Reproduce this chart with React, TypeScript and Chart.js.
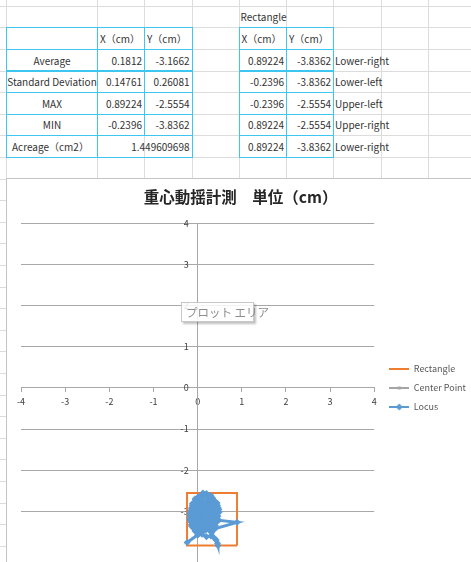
import React, { useEffect, useRef } from "react";
import { Chart, registerables } from "chart.js";

Chart.register(...registerables);

const FONT = "'Noto Sans CJK JP', 'Noto Sans', sans-serif";

// ---------------- data ----------------
const tableHeaders = ["X（cm）", "Y（cm）"];
const statLabels = ["Average", "Standard Deviation", "MAX", "MIN"];
const statX = ["0.1812", "0.14761", "0.89224", "-0.2396"];
const statY = ["-3.1662", "0.26081", "-2.5554", "-3.8362"];
const acreageLabel = "Acreage（cm2）";
const acreageValue = "1.449609698";

const rectTitle = "Rectangle";
const rectX = [0.89224, -0.2396, -0.2396, 0.89224, 0.89224];
const rectY = [-3.8362, -3.8362, -2.5554, -2.5554, -3.8362];
const rectCorners = ["Lower-right", "Lower-left", "Upper-left", "Upper-right", "Lower-right"];

const centerX = [0.1812];
const centerY = [-3.1662];

const locusX = [
  0.18, 0.10, 0.02, -0.08, -0.15, -0.17, -0.12, -0.02, 0.12, 0.25,
  0.36, 0.44, 0.47, 0.40, 0.28, 0.15, 0.04, -0.06, -0.14, -0.18,
  -0.16, -0.10, -0.03, 0.08, 0.18, 0.22, 0.14, 0.05, 0.12, 0.24,
  0.36, 0.45, 0.49, 0.44, 0.30, 0.18, 0.06, 0.10, 0.20, 0.30,
  0.34, 0.28, 0.12, -0.02, -0.12, -0.10, 0.00, 0.08, 0.00, -0.06,
  -0.04, 0.06, 0.18, 0.30, 0.40, 0.48, 0.89224, 0.40, 0.32, 0.38,
  0.45, 0.46, 0.42, 0.30, 0.20, 0.10, 0.00, -0.2396, 0.02, -0.06,
  -0.14, -0.08, 0.04, 0.16, 0.28, 0.38, 0.42, 0.38, 0.26, 0.18,
  0.24, 0.34, 0.40, 0.22, 0.12, 0.02, -0.06, -0.12, -0.16, -0.10,
  0.00, 0.10, 0.20, 0.26, 0.20, 0.10, 0.00, 0.08, 0.18, 0.30,
  0.42, 0.46, 0.48, 0.44, 0.34, 0.22, 0.08, -0.04, -0.12, -0.17,
  -0.18, -0.14, -0.06, 0.06, 0.16, 0.26, 0.36, 0.30, 0.20, 0.08,
  -0.04, -0.10, -0.12, -0.02, 0.14, 0.28, 0.40, 0.36, 0.24, 0.10,
  0.00, 0.06, 0.18, 0.30, 0.32, 0.18,
];
const locusY = [
  -3.17, -3.05, -2.92, -2.85, -2.98, -3.15, -3.30, -3.42, -3.45, -3.38,
  -3.25, -3.08, -2.92, -2.78, -2.66, -2.60, -2.66, -2.78, -2.92, -3.08,
  -3.25, -3.40, -3.50, -3.52, -3.46, -3.30, -3.15, -3.02, -2.85, -2.74,
  -2.72, -2.86, -3.02, -3.18, -3.12, -3.00, -2.80, -2.62, -2.57, -2.62,
  -2.80, -2.95, -3.10, -3.18, -3.10, -2.90, -2.75, -2.70, -2.90, -3.05,
  -3.28, -3.38, -3.36, -3.40, -3.35, -3.22, -3.27, -3.42, -3.52, -3.66,
  -3.78, -3.8362, -3.70, -3.60, -3.62, -3.56, -3.58, -3.76, -3.56, -3.45,
  -3.32, -3.18, -3.22, -3.24, -3.22, -3.10, -2.96, -2.84, -2.82, -2.90,
  -3.04, -3.00, -2.90, -2.68, -2.5554, -2.64, -2.70, -2.82, -3.00, -3.22,
  -3.35, -3.30, -3.18, -3.10, -2.96, -2.92, -3.00, -3.20, -3.17, -3.28,
  -3.26, -3.12, -2.96, -2.80, -2.68, -2.62, -2.64, -2.72, -2.86, -3.04,
  -3.20, -3.36, -3.48, -3.48, -3.40, -3.46, -3.44, -3.34, -3.28, -3.28,
  -3.36, -3.26, -3.00, -2.82, -2.76, -2.76, -2.98, -3.14, -3.18, -3.12,
  -3.08, -2.94, -2.84, -2.88, -3.06, -3.17,
];

const seriesNames = ["Rectangle", "Center Point", "Locus"];
const chartTitle = "重心動揺計測　単位（cm）";
const axisMin = -4;
const axisMax = 4;
const tooltipText = "プロット エリア";

// ---------------- styles ----------------
const ORANGE = "#ED7D31";
const GREY = "#A5A5A5";
const BLUE = "#5B9BD5";
const CYAN = "#3cc6f0";
const GRIDLINE = "#dcdcdc";
const TEXT = "#333333";

const COLS = [6, 97, 144, 191.5, 238.5, 286, 333, 380.5, 428, 471];
const ROW0 = 5.7;
const ROWH = 21.6;
const rowTop = (r: number) => ROW0 + r * ROWH;

type Align = "left" | "right" | "center";

function Cell(props: {
  c0: number;
  c1: number;
  r: number;
  text?: string;
  align?: Align;
  border?: boolean;
  indent?: number;
}) {
  const { c0, c1, r, text, align = "left", border, indent = 2 } = props;
  const x0 = COLS[c0];
  const x1 = COLS[c1];
  const y0 = rowTop(r);
  const y1 = rowTop(r + 1);
  return (
    <div
      style={{
        position: "absolute",
        left: x0,
        top: y0,
        width: x1 - x0 + 1,
        height: y1 - y0 + 1,
        boxSizing: "border-box",
        border: border ? `1px solid ${CYAN}` : "none",
        display: "flex",
        alignItems: "center",
        justifyContent:
          align === "left" ? "flex-start" : align === "right" ? "flex-end" : "center",
        paddingLeft: align === "left" ? indent : 2,
        paddingRight: 2,
        fontFamily: FONT,
        fontSize: 10,
        color: TEXT,
        whiteSpace: "nowrap",
        overflow: "visible",
      }}
    >
      {text}
    </div>
  );
}

function Sheet() {
  const hLines: number[] = [];
  for (let y = ROW0; y < 562; y += ROWH) hLines.push(y);
  return (
    <>
      {hLines.map((y, i) => (
        <div
          key={"h" + i}
          style={{ position: "absolute", left: 0, top: y, width: 471, height: 1, background: GRIDLINE }}
        />
      ))}
      {COLS.slice(0, 9).map((x, i) => (
        <div
          key={"v" + i}
          style={{ position: "absolute", left: x, top: 0, width: 1, height: 178, background: GRIDLINE }}
        />
      ))}
      <Cell c0={4} c1={5} r={0} text={rectTitle} />
      <Cell c0={0} c1={1} r={1} border />
      <Cell c0={1} c1={2} r={1} text={tableHeaders[0]} border />
      <Cell c0={2} c1={3} r={1} text={tableHeaders[1]} border />
      <Cell c0={4} c1={5} r={1} text={tableHeaders[0]} border />
      <Cell c0={5} c1={6} r={1} text={tableHeaders[1]} border />
      {statLabels.map((lab, i) => (
        <React.Fragment key={"s" + i}>
          <Cell c0={0} c1={1} r={2 + i} text={lab} align="center" border />
          <Cell c0={1} c1={2} r={2 + i} text={statX[i]} align="right" border />
          <Cell c0={2} c1={3} r={2 + i} text={statY[i]} align="right" border />
        </React.Fragment>
      ))}
      <Cell c0={0} c1={1} r={6} text={acreageLabel} align="left" indent={5} border />
      <Cell c0={1} c1={3} r={6} text={acreageValue} align="right" border />
      {rectX.map((x, i) => (
        <React.Fragment key={"r" + i}>
          <Cell c0={4} c1={5} r={2 + i} text={String(x)} align="right" border />
          <Cell c0={5} c1={6} r={2 + i} text={String(rectY[i])} align="right" border />
          <Cell c0={6} c1={7} r={2 + i} text={rectCorners[i]} align="left" />
        </React.Fragment>
      ))}
    </>
  );
}

function makeIcon(color: string, marker: "none" | "dash" | "diamond") {
  const c = document.createElement("canvas");
  c.width = 20;
  c.height = 8;
  const g = c.getContext("2d")!;
  g.strokeStyle = color;
  g.lineWidth = 2;
  g.beginPath();
  g.moveTo(0, 4);
  g.lineTo(20, 4);
  g.stroke();
  g.fillStyle = color;
  if (marker === "diamond") {
    g.beginPath();
    g.moveTo(10, 0.5);
    g.lineTo(13.5, 4);
    g.lineTo(10, 7.5);
    g.lineTo(6.5, 4);
    g.closePath();
    g.fill();
  } else if (marker === "dash") {
    g.fillRect(8.5, 2.5, 3, 3);
  }
  return c;
}

const legendShift = {
  id: "legendShift",
  afterLayout(chart: any) {
    const l = chart.legend;
    if (!l) return;
    l.left += 5;
    l.right += 5;
    l.top += 13;
    l.bottom += 13;
  },
};

function ScatterChart() {
  const ref = useRef<HTMLCanvasElement>(null);
  useEffect(() => {
    const toPts = (xs: number[], ys: number[]) => xs.map((x, i) => ({ x, y: ys[i] }));
    // dataset index 0 is drawn on top
    const icons = [makeIcon(BLUE, "diamond"), makeIcon(GREY, "dash"), makeIcon(ORANGE, "none")];
    const chart = new Chart(ref.current!, {
      type: "scatter",
      data: {
        datasets: [
          {
            label: seriesNames[2],
            data: toPts(locusX, locusY),
            showLine: true,
            borderColor: BLUE,
            backgroundColor: BLUE,
            borderWidth: 3,
            pointStyle: "rectRot",
            pointRadius: 3.5,
            pointBorderWidth: 0,
          },
          {
            label: seriesNames[1],
            data: toPts(centerX, centerY),
            showLine: true,
            borderColor: GREY,
            backgroundColor: GREY,
            borderWidth: 2,
            pointStyle: "rect",
            pointRadius: 2,
          },
          {
            label: seriesNames[0],
            data: toPts(rectX, rectY),
            showLine: true,
            borderColor: ORANGE,
            backgroundColor: ORANGE,
            borderWidth: 2,
            pointRadius: 0,
          },
        ],
      },
      options: {
        animation: false,
        responsive: true,
        maintainAspectRatio: false,
        layout: { padding: { left: 14, right: 0, top: 0, bottom: 0 } },
        plugins: {
          title: {
            display: true,
            text: chartTitle + "\u2002\u2009",
            color: "#262626",
            font: { family: FONT, size: 15.5, weight: "bold" },
            padding: { top: 9, bottom: 17 },
          },
          legend: {
            position: "right",
            labels: {
              usePointStyle: true,
              pointStyleWidth: 20,
              boxHeight: 8,
              color: "#595959",
              font: { family: FONT, size: 9 },
              padding: 10,
              generateLabels: (ch: any) => {
                const items = (Chart.defaults.plugins.legend.labels as any).generateLabels(ch);
                return items
                  .map((it: any) => ({ ...it, pointStyle: icons[it.datasetIndex] }))
                  .reverse();
              },
            },
          },
          tooltip: { enabled: false },
        },
        scales: {
          x: {
            type: "linear",
            position: { y: 0 } as any,
            min: axisMin,
            max: axisMax,
            ticks: {
              stepSize: 1,
              color: "#404040",
              font: { family: FONT, size: 9 },
              padding: 4,
            },
            grid: { drawOnChartArea: false, drawTicks: true, tickLength: 4, color: "#a8a8a8" },
            border: { color: "#a8a8a8" },
          },
          y: {
            type: "linear",
            position: { x: 0 } as any,
            min: axisMin - 0.25,
            max: axisMax,
            afterBuildTicks: (axis: any) => {
              axis.ticks = axis.ticks.filter((t: any) => Number.isInteger(t.value));
            },
            ticks: {
              stepSize: 1,
              color: "#404040",
              font: { family: FONT, size: 9 },
              callback: (v: any) => `${v}\u2002\u2002`,
            },
            grid: { drawTicks: false, color: "#a8a8a8" },
            border: { color: "#a8a8a8" },
          },
        },
      },
      plugins: [legendShift],
    });
    return () => chart.destroy();
  }, []);
  return <canvas ref={ref} />;
}

export default function App() {
  return (
    <div
      style={{
        position: "fixed",
        left: 0,
        top: 0,
        width: 471,
        height: 562,
        background: "#fff",
        overflow: "hidden",
        fontFamily: FONT,
      }}
    >
      <Sheet />
      <div
        style={{
          position: "absolute",
          left: 6,
          top: 178,
          width: 465,
          height: 393,
          background: "#fff",
          borderLeft: "1px solid #c4c4c4",
          borderTop: "1px solid #c4c4c4",
          boxSizing: "border-box",
        }}
      >
        <div style={{ position: "relative", width: 464, height: 392 }}>
          <ScatterChart />
        </div>
      </div>
      <div
        style={{
          position: "absolute",
          left: 181,
          top: 302,
          width: 73,
          height: 20,
          boxSizing: "border-box",
          border: "1px solid #c8c8c8",
          background: "rgba(255,255,255,0.85)",
          boxShadow: "2px 2px 2px rgba(0,0,0,0.25)",
          fontFamily: FONT,
          fontSize: 11.5,
          color: "#8c8c8c",
          display: "flex",
          alignItems: "center",
          paddingLeft: 4,
          whiteSpace: "nowrap",
        }}
      >
        {tooltipText}
      </div>
    </div>
  );
}
